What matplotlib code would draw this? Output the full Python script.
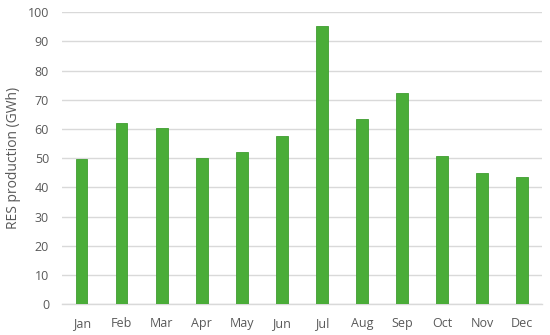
import matplotlib
matplotlib.use("Agg")
import matplotlib.pyplot as plt

months = ["Jan", "Feb", "Mar", "Apr", "May", "Jun", "Jul", "Aug", "Sep", "Oct", "Nov", "Dec"]
production = [49.6, 61.9, 60.4, 50.0, 52.2, 57.5, 95.4, 63.5, 72.2, 50.6, 45.0, 43.4]
yticks = [0, 10, 20, 30, 40, 50, 60, 70, 80, 90, 100]

plt.rcParams['font.family'] = ['Open Sans', 'DejaVu Sans']
text_color = "#595959"
grid_color = "#d9d9d9"

fig = plt.figure(figsize=(5.5, 3.35), dpi=100)
ax = fig.add_axes([0.112, 0.0916, 0.874, 0.8724])

x = range(len(months))
ax.bar(x, production, width=0.29, color="#4aad38", edgecolor="#3f9e30", linewidth=0.6, zorder=3)

ax.set_xlim(-0.5, len(months) - 0.5)
ax.set_ylim(0, 100)
ax.set_yticks(yticks)
ax.set_xticks(list(x))
ax.set_xticklabels(months)
ax.yaxis.grid(True, color=grid_color, linewidth=1.0, zorder=0)
ax.set_axisbelow(True)
for s in ["top", "right", "left"]:
    ax.spines[s].set_visible(False)
ax.spines["bottom"].set_color(grid_color)
ax.spines["bottom"].set_linewidth(1.0)
ax.tick_params(axis="both", length=0, labelsize=9, colors=text_color)
ax.tick_params(axis="y", pad=9)
ax.tick_params(axis="x", pad=9)
ax.set_ylabel("RES production (GWh)", fontsize=10, color=text_color, labelpad=5)

fig.savefig("out.png", dpi=100)
